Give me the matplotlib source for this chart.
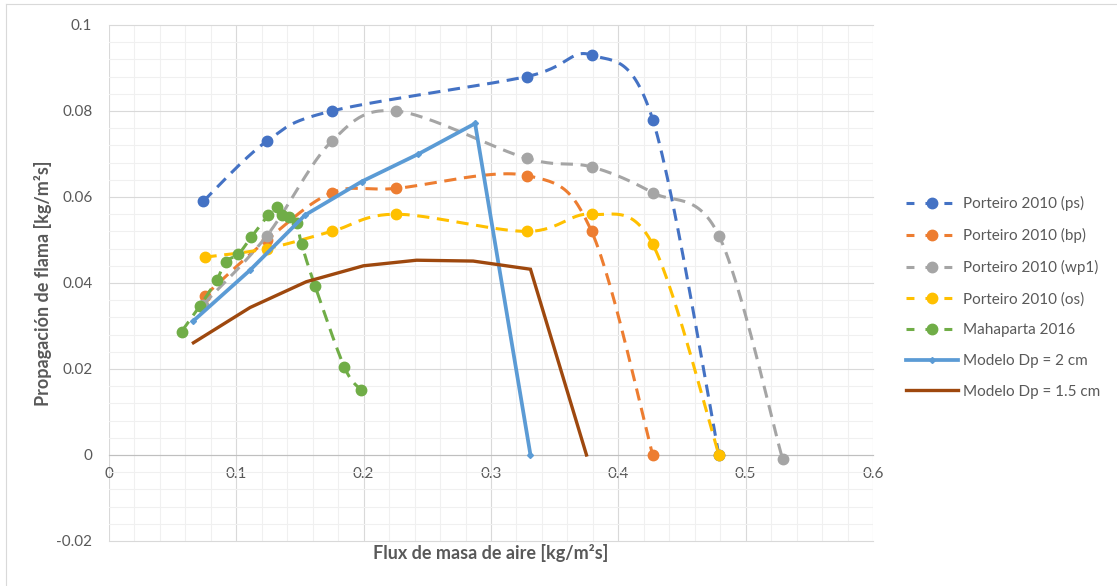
import numpy as np
import matplotlib
matplotlib.use("Agg")
import matplotlib.pyplot as plt
from matplotlib.lines import Line2D
from matplotlib.ticker import FixedLocator, FixedFormatter, MultipleLocator

# ---- data -------------------------------------------------------------
flux_ps = [0.074, 0.124, 0.175, 0.328, 0.379, 0.427, 0.479]
prop_ps = [0.059, 0.073, 0.080, 0.088, 0.093, 0.078, 0.0]

flux_bp = [0.075, 0.124, 0.175, 0.2255, 0.328, 0.379, 0.427]
prop_bp = [0.037, 0.050, 0.061, 0.062, 0.065, 0.052, 0.0]

flux_wp1 = [0.074, 0.124, 0.175, 0.2255, 0.328, 0.379, 0.427, 0.479, 0.529]
prop_wp1 = [0.035, 0.051, 0.073, 0.080, 0.069, 0.067, 0.061, 0.051, -0.001]

flux_os = [0.075, 0.124, 0.175, 0.2255, 0.328, 0.379, 0.427, 0.479]
prop_os = [0.046, 0.048, 0.052, 0.056, 0.052, 0.056, 0.049, 0.0]

flux_mah = [0.057, 0.0715, 0.0846, 0.0919, 0.1016, 0.1115, 0.1252, 0.1323,
            0.1356, 0.1416, 0.1474, 0.1513, 0.1618, 0.1849, 0.198]
prop_mah = [0.0287, 0.0347, 0.0407, 0.0450, 0.0467, 0.0506, 0.0558, 0.0577,
            0.0558, 0.0554, 0.0539, 0.0490, 0.0393, 0.0204, 0.0151]

flux_m20 = [0.0663, 0.1108, 0.154, 0.1985, 0.243, 0.2875, 0.331]
prop_m20 = [0.0312, 0.0430, 0.0558, 0.0636, 0.0700, 0.0771, 0.0]

flux_m15 = [0.0663, 0.1108, 0.155, 0.1998, 0.2416, 0.286, 0.331, 0.375]
prop_m15 = [0.0261, 0.0343, 0.0403, 0.0440, 0.0453, 0.0451, 0.0432, 0.0]

labels = ["Porteiro 2010 (ps)", "Porteiro 2010 (bp)", "Porteiro 2010 (wp1)",
          "Porteiro 2010 (os)", "Mahaparta 2016", "Modelo Dp = 2 cm",
          "Modelo Dp = 1.5 cm"]

x_ticks = [0, 0.1, 0.2, 0.3, 0.4, 0.5, 0.6]
x_tick_labels = ["0", "0.1", "0.2", "0.3", "0.4", "0.5", "0.6"]
y_ticks = [-0.02, 0, 0.02, 0.04, 0.06, 0.08, 0.1]
y_tick_labels = ["-0.02", "0", "0.02", "0.04", "0.06", "0.08", "0.1"]

# ---- style ------------------------------------------------------------
FONT = ["Lato", "DejaVu Sans"]
TXT = "#595959"
C_PS, C_BP, C_WP, C_OS, C_MAH = "#4472C4", "#ED7D31", "#A5A5A5", "#FFC000", "#70AD47"
C_M20, C_M15 = "#5B9BD5", "#9E480E"


def smooth(xs, ys, n=30):
    """Cubic Bezier smoothing through every point (spreadsheet style)."""
    p = np.column_stack([xs, ys]).astype(float)
    m = len(p)
    out = [p[0]]
    t = np.linspace(0, 1, n)[1:, None]
    for i in range(m - 1):
        p0 = p[i - 1] if i > 0 else p[i]
        p3 = p[i + 2] if i + 2 < m else p[i + 1]
        a, d = p[i], p[i + 1]
        b = a + (d - p0) / 6.0
        c = d - (p3 - a) / 6.0
        seg = ((1 - t) ** 3) * a + 3 * ((1 - t) ** 2) * t * b + 3 * (1 - t) * t ** 2 * c + t ** 3 * d
        out.extend(seg)
    out = np.array(out)
    return out[:, 0], out[:, 1]


fig = plt.figure(figsize=(11.17, 5.86), dpi=100)
ax = fig.add_axes([109 / 1117, 1 - 541 / 586, (873 - 109) / 1117, (541 - 25) / 586])

LW = 2.2
DASH = (4, 2.5)

handles = []
for xs, ys, col in [(flux_ps, prop_ps, C_PS), (flux_bp, prop_bp, C_BP),
                    (flux_wp1, prop_wp1, C_WP), (flux_os, prop_os, C_OS),
                    (flux_mah, prop_mah, C_MAH)]:
    sx, sy = smooth(xs, ys)
    ax.plot(sx, sy, color=col, lw=LW, linestyle=(0, DASH), dash_capstyle="butt",
            solid_capstyle="butt", zorder=3)
    ax.plot(xs, ys, linestyle="none", marker="o", ms=7.5, color=col,
            markeredgecolor=col, zorder=3)
    handles.append(Line2D([], [], color=col, lw=LW, linestyle=(0, (2.6, 3.6)),
                          marker="o", ms=7.5, markeredgecolor=col))

ax.plot(flux_m20, prop_m20, color=C_M20, lw=2.7, marker="D", ms=3,
        solid_joinstyle="miter", zorder=4)
handles.append(Line2D([], [], color=C_M20, lw=2.7, marker="D", ms=3))
ax.plot(flux_m15, prop_m15, color=C_M15, lw=2.4, solid_joinstyle="miter", zorder=4)
handles.append(Line2D([], [], color=C_M15, lw=2.4))

# ---- axes -------------------------------------------------------------
ax.set_xlim(0, 0.6)
ax.set_ylim(-0.02, 0.1)
ax.xaxis.set_major_locator(FixedLocator(x_ticks))
ax.xaxis.set_major_formatter(FixedFormatter(x_tick_labels))
ax.yaxis.set_major_locator(FixedLocator(y_ticks))
ax.yaxis.set_major_formatter(FixedFormatter(y_tick_labels))
ax.xaxis.set_minor_locator(MultipleLocator(0.02))
ax.yaxis.set_minor_locator(MultipleLocator(0.004))

ax.grid(which="major", color="#D9D9D9", lw=0.8, zorder=1)
ax.grid(which="minor", color="#F0F0F0", lw=0.8, zorder=0)
ax.set_axisbelow(True)
for gl in ax.get_xgridlines() + ax.get_ygridlines():
    gl.set_clip_on(False)

for s in ["left", "right", "top"]:
    ax.spines[s].set_visible(False)
ax.spines["bottom"].set_position(("data", 0))
ax.spines["bottom"].set_color("#BFBFBF")
ax.spines["bottom"].set_linewidth(0.8)
ax.spines["bottom"].set_zorder(2)

ax.tick_params(which="both", length=0)
ax.tick_params(axis="x", pad=9, labelsize=11, labelcolor=TXT)
ax.tick_params(axis="y", pad=12, labelsize=11, labelcolor=TXT)
for lab in ax.get_xticklabels() + ax.get_yticklabels():
    lab.set_family(FONT)

fig.text(491 / 1117, 1 - 553 / 586, "Flux de masa de aire [kg/m²s]", ha="center",
         va="center", fontsize=13, fontweight="bold", color=TXT, family=FONT)
fig.text(43 / 1117, 1 - 283 / 586, "Propagación de flama [kg/m²s]", ha="center",
         va="center", rotation=90, fontsize=13, fontweight="bold", color=TXT,
         family=FONT)

leg = fig.legend(handles, labels, loc="center left",
                 bbox_to_anchor=(906 / 1117, 1 - 297.5 / 586), frameon=False,
                 handlelength=3.4, handletextpad=0.3, labelspacing=1.1,
                 borderpad=0, borderaxespad=0, prop={"family": FONT, "size": 11})
for t in leg.get_texts():
    t.set_color(TXT)

# chart-area border (top and left edges)
fig.add_artist(Line2D([6 / 1117, 1], [1 - 4 / 586] * 2, transform=fig.transFigure,
                      color="#D9D9D9", lw=0.8))
fig.add_artist(Line2D([6 / 1117] * 2, [0, 1 - 4 / 586], transform=fig.transFigure,
                      color="#D9D9D9", lw=0.8))

fig.savefig("out.png", dpi=100, facecolor="white")
